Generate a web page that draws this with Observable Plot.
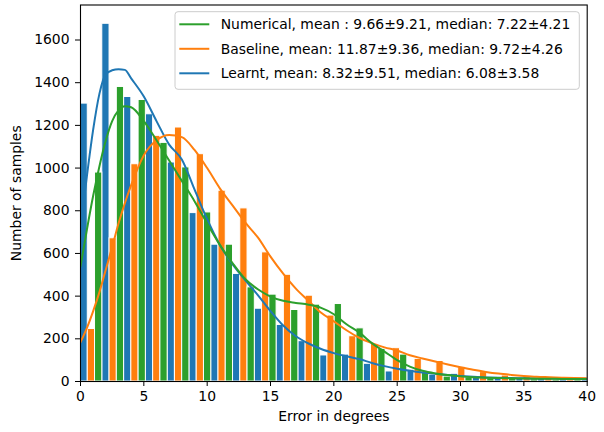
<!DOCTYPE html>
<html><head><meta charset="utf-8">
<script src="https://cdn.jsdelivr.net/npm/d3@7"></script>
<script src="https://cdn.jsdelivr.net/npm/@observablehq/plot@0.6"></script>
<style>body{margin:0;background:#fff} #chart{width:604px;height:432px}</style>
</head><body><div id="chart"></div>
<script>
// ---- data ----
const binWidth = 1.72; // degrees per histogram bin
const seriesNames = ["Learnt", "Baseline", "Numerical"];
const seriesColors = ["#1f77b4", "#ff7f0e", "#2ca02c"];
const learntCounts    = [1302, 1676, 1333, 1252, 1026, 789, 641, 504, 341, 265, 189, 122, 126, 83, 47, 55, 31, 36, 21, 19, 15, 13, 12, 10];
const baselineCounts  = [246, 671, 1018, 1151, 1190, 1065, 894, 811, 605, 500, 402, 309, 212, 176, 156, 106, 96, 67, 44, 28, 23, 20, 17, 15];
const numericalCounts = [979, 1380, 1319, 1118, 1003, 792, 641, 441, 407, 335, 360, 363, 249, 153, 126, 44, 23, 19, 15, 12, 10, 9, 8, 7];

const curveX = [0, 0.5, 1, 1.5, 2, 2.5, 3, 3.5, 4, 5, 6, 7, 8, 9, 10, 11, 12, 13, 14, 15, 16, 17, 18, 19, 20, 21, 22, 23, 24, 25, 26, 27, 28, 29, 30, 31, 32, 33, 34, 35, 36, 37, 38, 39, 40];
const learntCurve    = [720, 960, 1180, 1350, 1440, 1458, 1463, 1460, 1420, 1335, 1220, 1110, 1040, 900, 760, 640, 550, 475, 405, 330, 262, 212, 178, 152, 133, 118, 105, 87, 72, 60, 50, 42, 36, 31, 26, 22, 19, 17, 16, 15, 14, 14, 13, 13, 13];
const baselineCurve  = [184, 250, 330, 420, 525, 630, 740, 835, 920, 1060, 1130, 1155, 1145, 1085, 1000, 905, 825, 745, 675, 585, 505, 435, 378, 322, 282, 240, 205, 180, 160, 145, 123, 108, 94, 80, 67, 55, 45, 37, 31, 26, 22, 20, 18, 16, 15];
const numericalCurve = [540, 710, 870, 1010, 1130, 1220, 1270, 1290, 1285, 1220, 1130, 1035, 940, 845, 740, 640, 555, 480, 432, 398, 378, 368, 360, 345, 315, 268, 230, 180, 140, 100, 70, 50, 38, 30, 24, 20, 18, 16, 15, 14, 13, 13, 12, 12, 12];

const xTicks = [0, 5, 10, 15, 20, 25, 30, 35, 40];
const yTicks = [0, 200, 400, 600, 800, 1000, 1200, 1400, 1600];
const legendLabels = [
  "Numerical, mean : 9.66\u00b19.21, median: 7.22\u00b14.21",
  "Baseline, mean: 11.87\u00b19.36, median: 9.72\u00b14.26",
  "Learnt, mean: 8.32\u00b19.51, median: 6.08\u00b13.58"
];
const legendColors = ["#2ca02c", "#ff7f0e", "#1f77b4"];

// ---- build tables ----
const countArrays = [learntCounts, baselineCounts, numericalCounts];
const bars = [];
countArrays.forEach((arr, s) => arr.forEach((v, k) => bars.push({
  color: seriesColors[s],
  x1: k * binWidth + s * binWidth / 3,
  x2: k * binWidth + (s + 1) * binWidth / 3,
  y: v
})));
const curveArrays = [learntCurve, baselineCurve, numericalCurve];
const curves = [];
curveArrays.forEach((arr, s) => arr.forEach((v, i) => curves.push({series: seriesNames[s], color: seriesColors[s], x: curveX[i], y: v})));

const chart = Plot.plot({
  width: 604, height: 432,
  marginLeft: 80, marginRight: 17.3, marginTop: 4.5, marginBottom: 51,
  style: {fontFamily: "DejaVu Sans", fontSize: "13.9px", color: "black", background: "white"},
  x: {domain: [0, 40]},
  y: {domain: [0, 1764]},
  color: {type: "identity"},
  marks: [
    Plot.rectY(bars, {x1: "x1", x2: "x2", y: "y", fill: "color", stroke: "white", strokeWidth: 1, clip: true}),
    Plot.line(curves, {x: "x", y: "y", z: "series", stroke: "color", strokeWidth: 2, curve: "monotone-x", clip: true}),
    Plot.frame({stroke: "black", strokeWidth: 1.1}),
    Plot.axisX({ticks: xTicks, tickFormat: d3.format("d"), tickSize: 5, tickPadding: 5, label: "Error in degrees", labelAnchor: "center", labelOffset: 39, labelArrow: "none"}),
    Plot.axisY({ticks: yTicks, tickFormat: d3.format("d"), tickSize: 5, tickPadding: 6, label: "Number of samples", labelAnchor: "center", labelOffset: 69, labelArrow: "none"})
  ]
});
document.getElementById("chart").appendChild(chart);

// ---- legend inside the plot area ----
const svg = d3.select(chart.tagName.toLowerCase() === "svg" ? chart : chart.querySelector("svg"));
const lg = svg.append("g").attr("font-family", "DejaVu Sans").attr("font-size", "13.9px").attr("text-anchor", "start");
lg.append("rect").attr("x", 175).attr("y", 11.7).attr("width", 404.3).attr("height", 77.6)
  .attr("rx", 3).attr("fill", "white").attr("fill-opacity", 0.8).attr("stroke", "#cccccc").attr("stroke-width", 1);
legendLabels.forEach((t, i) => {
  const cy = 24.3 + i * 24.5;
  lg.append("line").attr("x1", 179.3).attr("x2", 209.3).attr("y1", cy).attr("y2", cy)
    .attr("stroke", legendColors[i]).attr("stroke-width", 2);
  lg.append("text").attr("x", 220.7).attr("y", cy).attr("dy", "0.36em").attr("text-anchor", "start").attr("fill", "black").text(t);
});
</script>
</body></html>
